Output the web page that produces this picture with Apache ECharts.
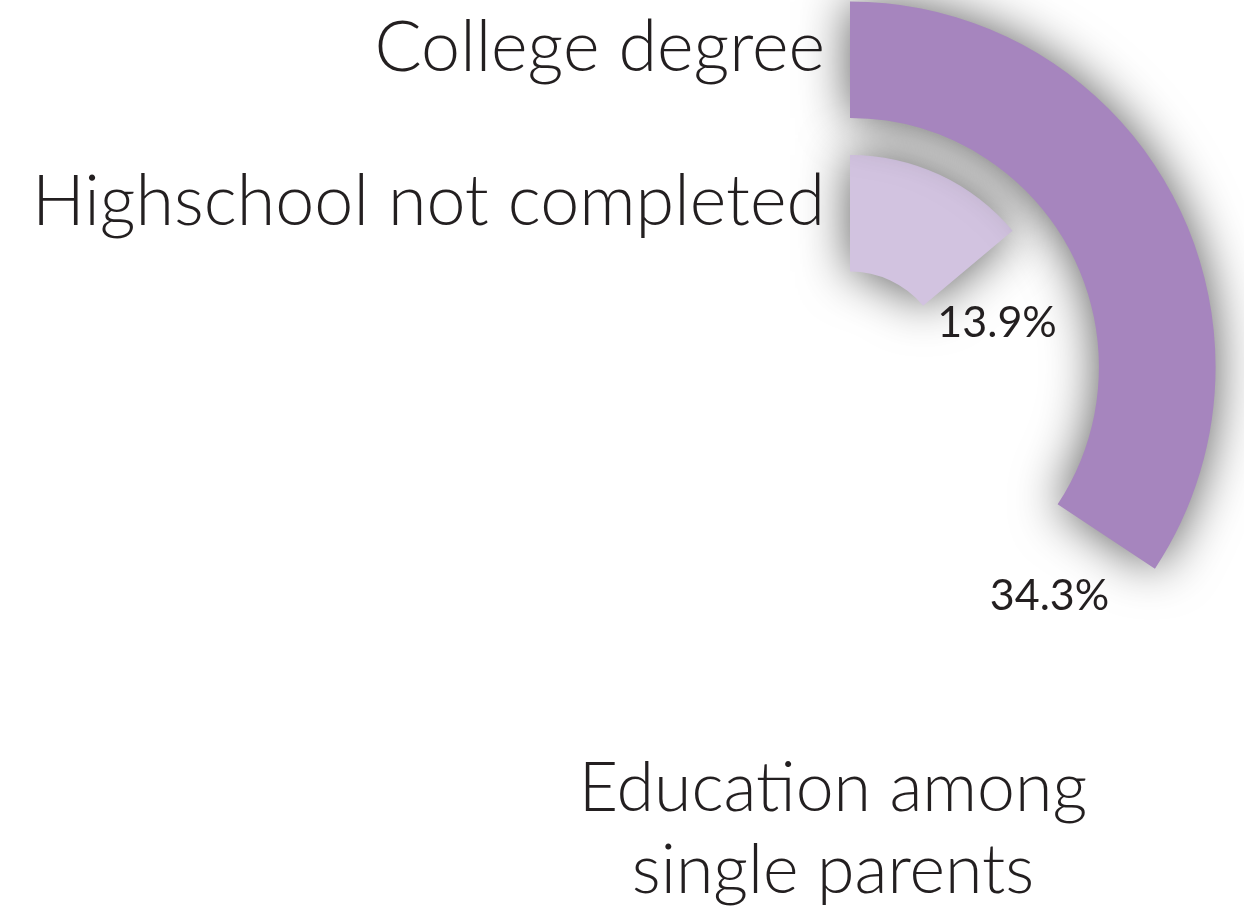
<!DOCTYPE html>
<html>
<head>
<meta charset="utf-8">
<title>Education among single parents</title>
<script src="https://cdn.jsdelivr.net/npm/echarts@6/dist/echarts.min.js"></script>
<style>
  html, body { margin: 0; padding: 0; background: #fff; }
  #chart { width: 1244px; height: 924px; }
</style>
</head>
<body>
<div id="chart"></div>
<script>
// inner ring first, outer ring last
const categories = ['Highschool not completed', 'College degree']
const shares = [13.9, 34.3]
const ringColors = ['#d2c3e0', '#a685be']

const fontFamily = 'Lato, "Open Sans", sans-serif'
const textColor = '#231f20'

const chart = echarts.init(document.getElementById('chart'))

const option = {
  backgroundColor: '#ffffff',
  title: {
    text: 'Education among\nsingle parents',
    left: 828,
    top: 743,
    textAlign: 'center',
    textStyle: {
      fontFamily: fontFamily,
      fontSize: 68,
      fontWeight: 300,
      color: textColor,
      lineHeight: 82
    }
  },
  polar: {
    center: [850, 367],
    radius: [77, 384]
  },
  angleAxis: {
    type: 'value',
    min: 0,
    max: 100,
    startAngle: 90,
    clockwise: true,
    show: false
  },
  radiusAxis: {
    type: 'category',
    data: categories,
    axisLine: { show: false },
    axisTick: { show: false },
    splitLine: { show: false },
    axisLabel: {
      show: true,
      interval: 0,
      hideOverlap: false,
      margin: 25,
      fontFamily: fontFamily,
      fontSize: 70,
      fontWeight: 300,
      color: textColor,
      verticalAlign: 'bottom',
      lineHeight: 22
    }
  },
  series: [
    {
      type: 'bar',
      coordinateSystem: 'polar',
      barWidth: '76%',
      data: shares.map((v, i) => ({
        value: v,
        itemStyle: { color: ringColors[i] }
      })),
      itemStyle: {
        shadowBlur: 50,
        shadowColor: 'rgba(0, 0, 0, 0.65)'
      },
      label: {
        show: true,
        position: 'end',
        rotate: 0,
        distance: 72,
        offset: [-17, 0],
        align: 'center',
        verticalAlign: 'middle',
        formatter: '{c}%',
        fontFamily: fontFamily,
        fontSize: 43,
        color: textColor
      },
      silent: true
    }
  ]
}

chart.setOption(option)
</script>
</body>
</html>
